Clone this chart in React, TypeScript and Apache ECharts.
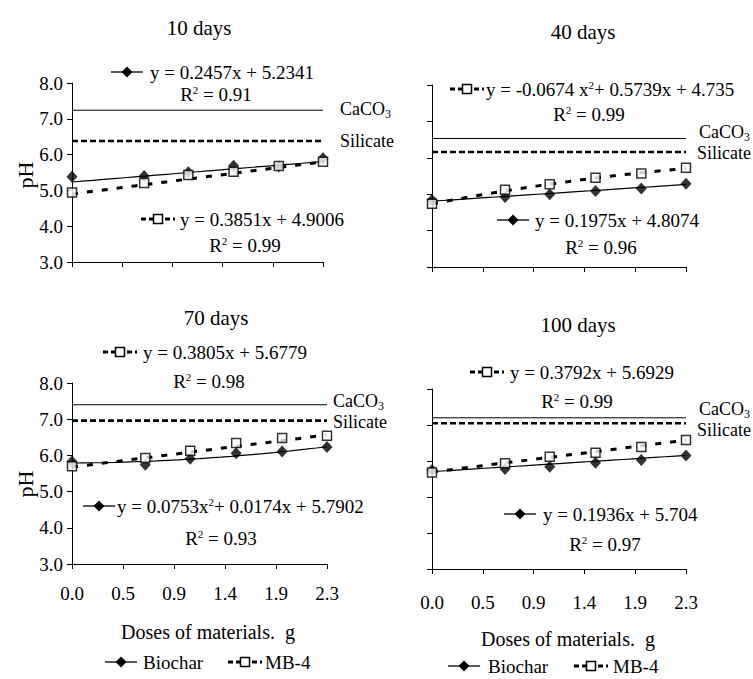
import React, { useEffect, useRef } from "react";
import * as echarts from "echarts";

// ---------- data ----------
const doses = [0, 0.67, 1.08, 1.5, 1.92, 2.33];
const xTickLabels = ["0.0", "0.5", "0.9", "1.4", "1.9", "2.3"];
const panelTitles = ["10 days", "40 days", "70 days", "100 days"];

const biochar10 = [5.38, 5.4, 5.51, 5.69, 5.67, 5.9];
const mb4_10 = [4.94, 5.21, 5.43, 5.52, 5.68, 5.8];
const biochar40 = [4.84, 4.92, 5.0, 5.09, 5.16, 5.29];
const mb4_40 = [4.74, 5.12, 5.27, 5.45, 5.57, 5.73];
const biochar70 = [5.83, 5.74, 5.91, 6.06, 6.11, 6.23];
const mb4_70 = [5.7, 5.93, 6.13, 6.34, 6.48, 6.54];
const biochar100 = [5.75, 5.78, 5.84, 5.95, 6.03, 6.15];
const mb4_100 = [5.68, 5.94, 6.12, 6.23, 6.39, 6.58];

const caco3Level = [7.24, 6.53, 7.4, 7.2];
const silicateLevel = [6.38, 6.16, 6.96, 7.05];

// regression coefficients [a, b, c] for y = a x^2 + b x + c
const trendBiochar = [
  [0, 0.2457, 5.2341],
  [0, 0.1975, 4.8074],
  [0.0753, 0.0174, 5.7902],
  [0, 0.1936, 5.704],
];
const trendMB4 = [
  [0, 0.3851, 4.9006],
  [-0.0674, 0.5739, 4.735],
  [0, 0.3805, 5.6779],
  [0, 0.3792, 5.6929],
];

const eqBiochar = [
  "y = 0.2457x + 5.2341",
  "y = 0.1975x + 4.8074",
  "y = 0.0753x^2+ 0.0174x + 5.7902",
  "y = 0.1936x + 5.704",
];
const eqMB4 = [
  "y = 0.3851x + 4.9006",
  "y = -0.0674 x^2+ 0.5739x + 4.735",
  "y = 0.3805x + 5.6779",
  "y = 0.3792x + 5.6929",
];
const r2Biochar = ["0.91", "0.96", "0.93", "0.97"];
const r2MB4 = ["0.99", "0.99", "0.98", "0.99"];

const biocharSets = [biochar10, biochar40, biochar70, biochar100];
const mb4Sets = [mb4_10, mb4_40, mb4_70, mb4_100];

// ---------- layout ----------
const FONT = "Liberation Serif, serif";
const X_MAX = 2.33;
const X_INT = 0.466;
const FS = 19;

const layout = [
  {
    grid: { left: 72, top: 83, width: 251, height: 179 },
    title: [199, 28],
    bio: { m: [127, 72], t: [150, 72], r: [216, 94] },
    mb: { m: [158, 219], t: [180, 219], r: [245, 245] },
    caco: [340, 109],
    sil: [340, 141],
    xLabels: false,
    yLabels: true,
    xMargin: 20,
  },
  {
    grid: { left: 432, top: 85, width: 254, height: 182 },
    title: [583, 32],
    bio: { m: [513, 220], t: [535, 220], r: [601, 247] },
    mb: { m: [467, 89], t: [486, 89], r: [589, 114] },
    caco: [699, 132],
    sil: [697, 153],
    xLabels: false,
    yLabels: false,
    xMargin: 20,
  },
  {
    grid: { left: 72, top: 383, width: 255, height: 181 },
    title: [216, 318],
    bio: { m: [99, 506], t: [117, 506], r: [221, 538] },
    mb: { m: [120, 352], t: [143, 352], r: [209, 381] },
    caco: [333, 401],
    sil: [333, 422],
    xLabels: true,
    yLabels: true,
    xMargin: 20,
  },
  {
    grid: { left: 432, top: 389, width: 254, height: 180 },
    title: [578, 325],
    bio: { m: [520, 514], t: [543, 514], r: [605, 544] },
    mb: { m: [487, 372], t: [510, 372], r: [577, 401] },
    caco: [699, 409],
    sil: [697, 430],
    xLabels: true,
    yLabels: false,
    xMargin: 24,
  },
];

const LS = 18; // side label font size

const rich = {
  r: { fontSize: FS, fontFamily: FONT, lineHeight: 20, color: "#000" },
  s: { fontSize: 11, fontFamily: FONT, lineHeight: 11, padding: [0, 0, 9, 0], color: "#000" },
  c: { fontSize: LS, fontFamily: FONT, lineHeight: 19, color: "#000" },
  b: { fontSize: 12, fontFamily: FONT, lineHeight: 11, padding: [9, 0, 0, 0], color: "#000" },
};

function richEq(s: string) {
  return s
    .split("^2")
    .map((p) => `{r|${p}}`)
    .join("{s|2}");
}

function text(x: number, y: number, str: string, align = "left", size = FS, extra: any = {}) {
  return {
    type: "text",
    x,
    y,
    ...extra,
    style: {
      text: str,
      fontSize: size,
      fontFamily: FONT,
      fill: "#000",
      align,
      verticalAlign: "middle",
      textAlign: align,
      textVerticalAlign: "middle",
      rich,
    },
  };
}

function bioMarker(cx: number, cy: number, half = 16) {
  return [
    {
      type: "line",
      shape: { x1: cx - half, y1: cy, x2: cx + half, y2: cy },
      style: { stroke: "#000", lineWidth: 1.3 },
    },
    {
      type: "polygon",
      shape: { points: [[cx, cy - 5.5], [cx + 5.5, cy], [cx, cy + 5.5], [cx - 5.5, cy]] },
      style: { fill: "#000" },
    },
  ];
}

function mbMarker(cx: number, cy: number, half = 17) {
  return [
    {
      type: "line",
      shape: { x1: cx - half, y1: cy, x2: cx + half, y2: cy },
      style: { stroke: "#000", lineWidth: 3, lineDash: [5, 3] },
    },
    {
      type: "rect",
      shape: { x: cx - 4.5, y: cy - 4.5, width: 9, height: 9 },
      style: { fill: "#fff", stroke: "#000", lineWidth: 1.5 },
    },
  ];
}

function trendData(coef: number[]) {
  const pts: number[][] = [];
  const n = 24;
  for (let k = 0; k <= n; k++) {
    const x = (X_MAX * k) / n;
    pts.push([x, coef[0] * x * x + coef[1] * x + coef[2]]);
  }
  return pts;
}

function buildOption() {
  const grids: any[] = [];
  const xAxes: any[] = [];
  const yAxes: any[] = [];
  const series: any[] = [];
  const graphic: any[] = [];

  layout.forEach((L, i) => {
    grids.push({ ...L.grid, containLabel: false });
    xAxes.push({
      gridIndex: i,
      type: "value",
      min: 0,
      max: X_MAX,
      interval: X_INT,
      axisLine: { show: true, onZero: false, lineStyle: { color: "#000", width: 1 } },
      axisTick: { show: true, length: 5, lineStyle: { color: "#000", width: 1 } },
      axisLabel: {
        show: L.xLabels,
        fontSize: FS,
        fontFamily: FONT,
        color: "#000",
        margin: L.xMargin,
        formatter: (v: number) => xTickLabels[Math.round(v / X_INT)] ?? "",
      },
      splitLine: { show: false },
    });
    yAxes.push({
      gridIndex: i,
      type: "value",
      min: 3,
      max: 8,
      interval: 1,
      axisLine: { show: true, onZero: false, lineStyle: { color: "#000", width: 1 } },
      axisTick: { show: true, length: 5, lineStyle: { color: "#000", width: 1 } },
      axisLabel: {
        show: L.yLabels,
        fontSize: FS,
        fontFamily: FONT,
        color: "#000",
        margin: 9,
        formatter: (v: number) => v.toFixed(1),
      },
      splitLine: { show: false },
    });

    // reference lines
    series.push({
      type: "line",
      name: "CaCO3",
      xAxisIndex: i,
      yAxisIndex: i,
      data: [
        [0, caco3Level[i]],
        [X_MAX, caco3Level[i]],
      ],
      showSymbol: false,
      symbol: "none",
      lineStyle: { color: "#000", width: 1 },
      z: 2,
    });
    series.push({
      type: "line",
      name: "Silicate",
      xAxisIndex: i,
      yAxisIndex: i,
      data: [
        [0, silicateLevel[i]],
        [X_MAX, silicateLevel[i]],
      ],
      showSymbol: false,
      symbol: "none",
      lineStyle: { color: "#000", width: 2.6, type: [6, 3] },
      z: 2,
    });
    // trend lines
    series.push({
      type: "line",
      name: "Biochar trend",
      xAxisIndex: i,
      yAxisIndex: i,
      data: trendData(trendBiochar[i]),
      showSymbol: false,
      symbol: "none",
      lineStyle: { color: "#000", width: 1.2 },
      z: 3,
    });
    series.push({
      type: "line",
      name: "MB-4 trend",
      xAxisIndex: i,
      yAxisIndex: i,
      data: trendData(trendMB4[i]),
      showSymbol: false,
      symbol: "none",
      lineStyle: { color: "#000", width: 3, type: [6, 9] },
      z: 3,
    });
    // points
    series.push({
      type: "scatter",
      name: "Biochar",
      xAxisIndex: i,
      yAxisIndex: i,
      data: doses.map((d, j) => [d, biocharSets[i][j]]),
      symbol: "diamond",
      symbolSize: [11, 12],
      itemStyle: { color: "#000" },
      z: 5,
    });
    series.push({
      type: "scatter",
      name: "MB-4",
      xAxisIndex: i,
      yAxisIndex: i,
      data: doses.map((d, j) => [d, mb4Sets[i][j]]),
      symbol: "rect",
      symbolSize: 9,
      itemStyle: { color: "#fff", borderColor: "#000", borderWidth: 1.5 },
      z: 6,
    });

    // texts
    graphic.push(text(L.title[0], L.title[1], panelTitles[i], "center", 21));
    graphic.push(...bioMarker(L.bio.m[0], L.bio.m[1]));
    graphic.push(text(L.bio.t[0], L.bio.t[1], richEq(eqBiochar[i])));
    graphic.push(text(L.bio.r[0], L.bio.r[1], `{r|R}{s|2}{r| = ${r2Biochar[i]}}`, "center"));
    graphic.push(...mbMarker(L.mb.m[0], L.mb.m[1]));
    graphic.push(text(L.mb.t[0], L.mb.t[1], richEq(eqMB4[i])));
    graphic.push(text(L.mb.r[0], L.mb.r[1], `{r|R}{s|2}{r| = ${r2MB4[i]}}`, "center"));
    graphic.push(text(L.caco[0], L.caco[1], "{c|CaCO}{b|3}", "left", LS));
    graphic.push(text(L.sil[0], L.sil[1], "Silicate", "left", LS));
  });

  // y-axis names
  graphic.push(text(25, 175, "pH", "center", 22, { rotation: Math.PI / 2 }));
  graphic.push(text(25, 484, "pH", "center", 22, { rotation: Math.PI / 2 }));
  // x-axis names
  graphic.push(text(208, 632, "Doses of materials.  g", "center", 20));
  graphic.push(text(568, 639, "Doses of materials.  g", "center", 20));
  // legends
  graphic.push(...bioMarker(121, 662));
  graphic.push(text(143, 662, "Biochar"));
  graphic.push(...mbMarker(245, 662));
  graphic.push(text(265, 662, "MB-4"));
  graphic.push(...bioMarker(464, 666));
  graphic.push(text(488, 666, "Biochar"));
  graphic.push(...mbMarker(591, 666));
  graphic.push(text(613, 666, "MB-4"));

  return {
    animation: false,
    backgroundColor: "#fff",
    textStyle: { fontFamily: FONT },
    grid: grids,
    xAxis: xAxes,
    yAxis: yAxes,
    series,
    graphic,
  };
}

export default function App() {
  const ref = useRef<HTMLDivElement>(null);
  useEffect(() => {
    if (!ref.current) return;
    const chart = echarts.init(ref.current, undefined, { renderer: "svg" });
    chart.setOption(buildOption() as any);
    return () => chart.dispose();
  }, []);
  return (
    <div
      ref={ref}
      style={{ position: "fixed", left: 0, top: 0, width: 753, height: 679, background: "#fff" }}
    />
  );
}
